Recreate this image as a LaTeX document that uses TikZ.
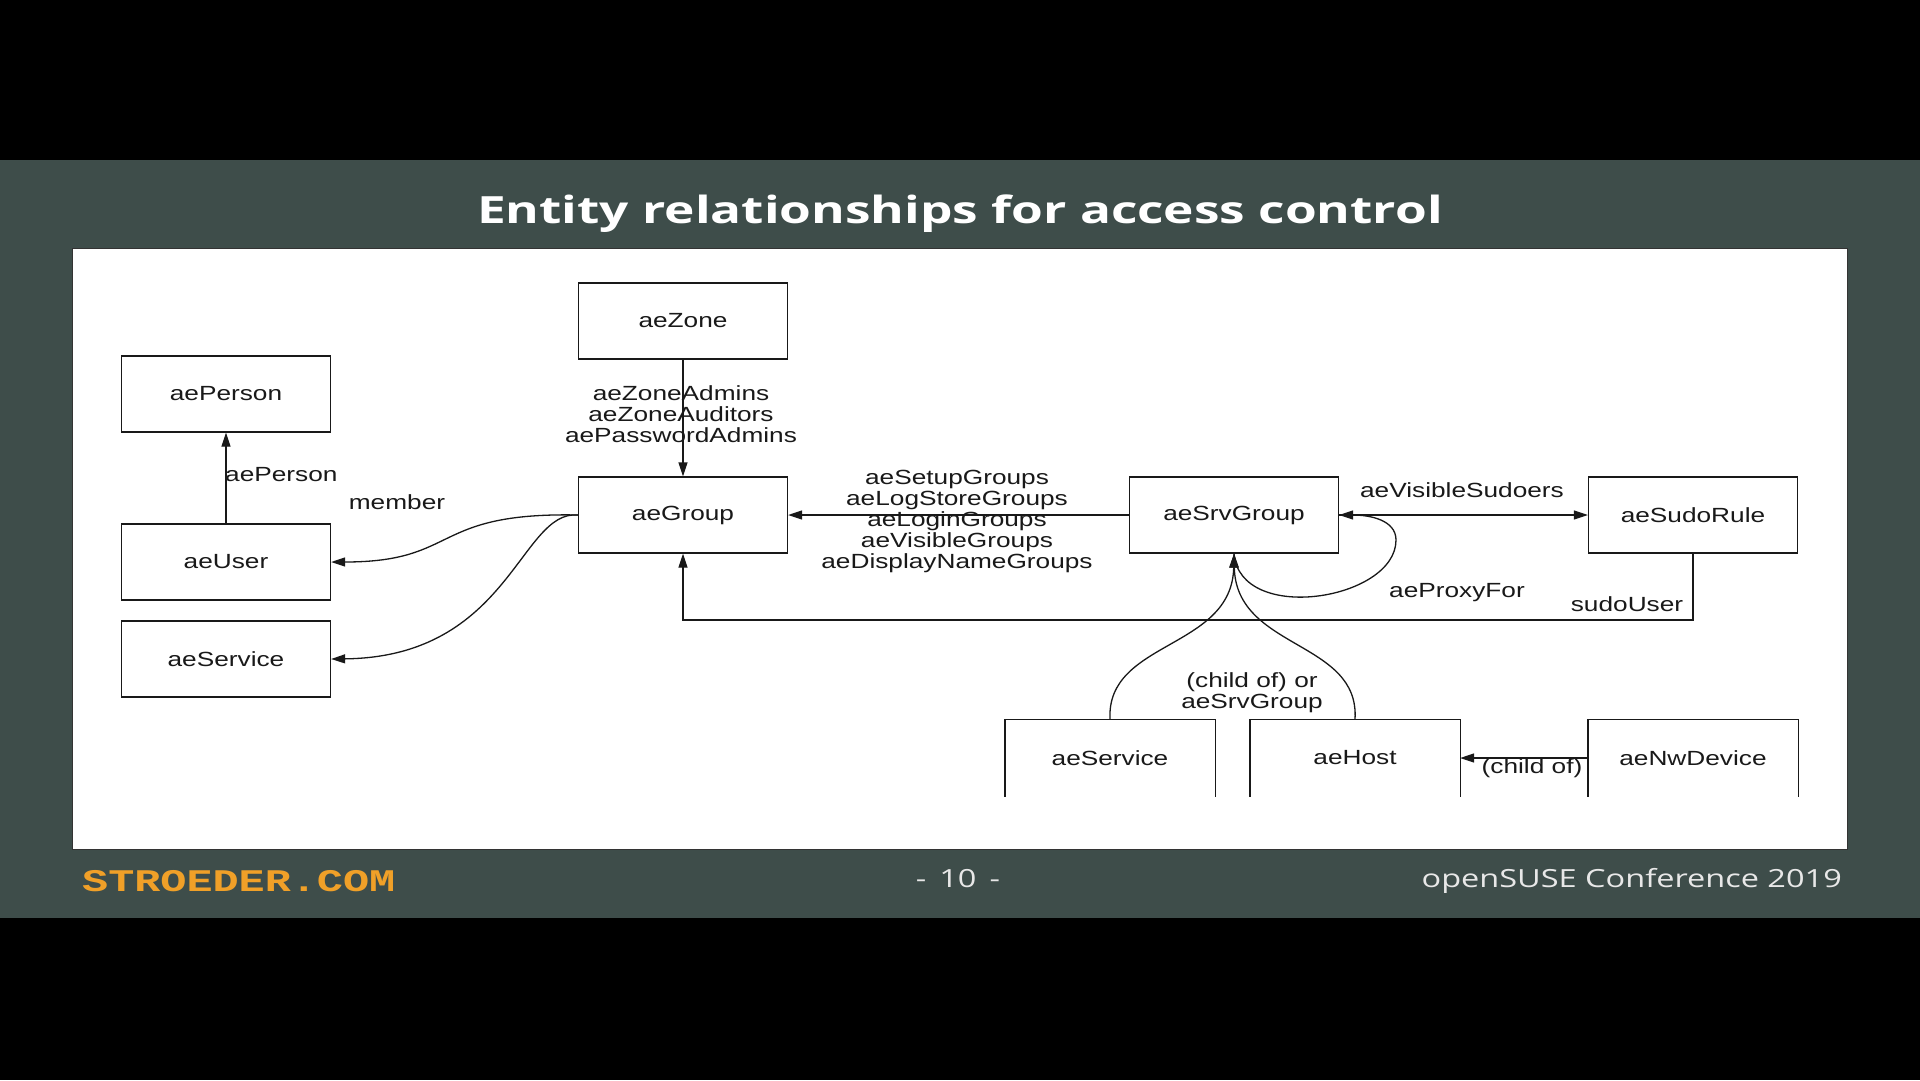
\documentclass[tikz,border=0pt]{standalone}
\usepackage{fontspec}
\usetikzlibrary{arrows.meta}

% wide slide fonts
\newfontfamily\diagfont{Liberation Sans}[FakeStretch=1.28]
\newfontfamily\titlefont{Open Sans}[FakeStretch=1.37]
\newfontfamily\footfont{Open Sans}[FakeStretch=1.3]
\newfontfamily\brandfont{Liberation Mono}[FakeStretch=1.38]
\newcommand\boxfont{\diagfont\fontsize{20.5}{21}\selectfont}

\definecolor{slidebg}{RGB}{62,77,74}
\definecolor{brand}{RGB}{240,160,40}
\definecolor{ink}{RGB}{25,25,25}
\definecolor{foot}{RGB}{232,232,232}

\tikzset{
  entity/.style={draw=ink, line width=1.3pt, minimum width=209pt, minimum height=76pt,
                 inner sep=0pt, font=\boxfont, text=ink},
  openentity/.style={entity, draw=none},
  boxline/.style={draw=ink, line width=1.3pt},
  lbl/.style={font=\boxfont, text=ink, inner sep=0pt, align=center},
  conn/.style={draw=ink, line width=1.3pt, -{Triangle[length=14pt,width=9pt]}},
  foottext/.style={font=\footfont\fontsize{25}{27}\selectfont, text=foot, inner sep=0pt},
}

\begin{document}
\begin{tikzpicture}[x=1pt,y=-1pt]
  \useasboundingbox (0,0) rectangle (1920,1080);
  % slide background and white canvas
  \fill[black] (0,0) rectangle (1920,1080);
  \fill[slidebg] (0,160) rectangle (1920,918);
  \filldraw[fill=white, draw=black!80, line width=1pt] (72,248) rectangle (1847,849);

  % header and footer
  \node[font=\titlefont\bfseries\fontsize{37.5}{40}\selectfont, text=white, anchor=base, inner sep=0pt]
    (title) at (960,223) {Entity relationships for access control};
  \node[font=\brandfont\bfseries\fontsize{31.5}{34}\selectfont, text=brand, anchor=base west, inner sep=0pt]
    (brand) at (82,891) {STROEDER.COM};
  \node[foottext, anchor=base] (page) at (958,887) {-\hspace{13pt}10\hspace{13pt}-};
  \node[foottext, anchor=base east] (conf) at (1842,887) {openSUSE Conference 2019};

  % entities
  \node[entity] (person) at (226,394) {aePerson};
  \node[entity] (user)   at (226,562) {aeUser};
  \node[entity] (servL)  at (226,659) {aeService};
  \node[entity] (zone)   at (683,321) {aeZone};
  \node[entity] (group)  at (683,515) {aeGroup};
  \node[entity] (srv)    at (1234,515) {aeSrvGroup};
  \node[entity] (sudo)   at (1693,515) {aeSudoRule};
  \node[openentity] (servB) at (1110,758) {aeService};
  \node[openentity] (host)  at (1355,758) {aeHost};
  \node[openentity] (nw)    at (1693,758) {aeNwDevice};
  \foreach \b in {servB,host,nw}
    \draw[boxline] (\b.south west) -- (\b.north west) -- (\b.north east) -- (\b.south east);

  % relationships
  \draw[conn] (user.north) -- (person.south);
  \draw[conn] (zone.south) -- (group.north);
  \draw[conn] (srv.west) -- (group.east);
  \draw[conn] (srv.east) -- (sudo.west);
  \draw[conn] (group.west) .. controls (430,512) and (460,562) .. (user.east);
  \draw[conn] (group.west) .. controls (520,510) and (510,657) .. (servL.east);

  \coordinate (busR) at (1693,620);
  \coordinate (busL) at (683,620);
  \draw[conn] (sudo.south) -- (busR) -- (busL) -- (group.south);

  \coordinate (loopR) at (1396,540);
  \draw[conn] (srv.south) .. controls (1240,625) and (1396,600) .. (loopR)
                          .. controls (1396,520) and (1370,515) .. (srv.east);

  \draw[conn] (servB.north) .. controls (1106,640) and (1232,650) .. (srv.south);
  \draw[conn] (host.north) .. controls (1360,640) and (1236,650) .. (srv.south);
  \draw[conn] (nw.west) -- (host.east);

  % relationship labels
  \node[lbl, anchor=west] (lPerson) at (225,475) {aePerson};
  \node[lbl] (lMember) at (397,502) {member};
  \node[lbl] (lZone) at (681,414) {aeZoneAdmins\\aeZoneAuditors\\aePasswordAdmins};
  \node[lbl] (lSrv) at (957,521) {aeSetupGroups\\aeLogStoreGroups\\aeLoginGroups\\aeVisibleGroups\\aeDisplayNameGroups};
  \node[lbl] (lVis) at (1462,490) {aeVisibleSudoers};
  \node[lbl] (lProxy) at (1457,593) {aeProxyFor};
  \node[lbl] (lSudoUser) at (1627,604) {sudoUser};
  \node[lbl] (lChild) at (1252,693) {(child of) or\\aeSrvGroup};
  \node[lbl] (lChild2) at (1532,768) {(child of)};
\end{tikzpicture}
\end{document}
